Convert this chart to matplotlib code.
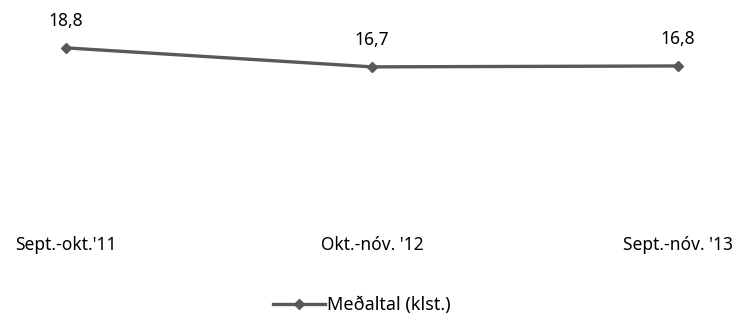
import matplotlib.pyplot as plt

categories = ["Sept.-okt.'11", "Okt.-nóv. '12", "Sept.-nóv. '13"]
values = [18.8, 16.7, 16.8]
labels = ["18,8", "16,7", "16,8"]
series_name = "Meðaltal (klst.)"

col = '#595959'
plt.rcParams['font.family'] = ['Noto Sans', 'DejaVu Sans']

fig = plt.figure(figsize=(7.48, 3.18), dpi=100)
ax = fig.add_axes([66/748, 100/318, (678-66)/748, 181/318])

x = list(range(len(categories)))
line, = ax.plot(x, values, color=col, lw=2.4, marker='D', markersize=5.5,
                label=series_name, clip_on=False)

# data labels above the points
for xi, v, lab in zip(x, values, labels):
    ax.annotate(lab, (xi, v), xytext=(0, 19.5), textcoords='offset points',
                ha='center', va='center', fontsize=12.5, color='#000000')

ax.set_xlim(0, 2)
ax.set_ylim(0, 20)
ax.set_xticks(x)
ax.set_xticklabels(categories, fontsize=12.5)
ax.tick_params(axis='x', length=0, pad=13)
ax.set_yticks([])
for s in ax.spines.values():
    s.set_visible(False)

fig.legend(handles=[line], loc='center', bbox_to_anchor=(362/748, 13/318),
           frameon=False, fontsize=13, handlelength=2.9, handletextpad=0.1)

fig.savefig('out.png', dpi=100)
